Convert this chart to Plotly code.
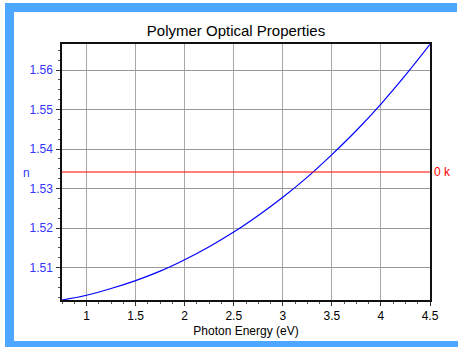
import plotly.graph_objects as go

# Data
photon_energy_eV = [0.75, 1.0, 1.25, 1.5, 1.75, 2.0, 2.25, 2.5, 2.75, 3.0, 3.25, 3.5, 3.75, 4.0, 4.25, 4.5]
n_values = [1.5018, 1.5030, 1.5047, 1.5067, 1.5091, 1.5120, 1.5153, 1.5190, 1.5232, 1.5278, 1.5329, 1.5386, 1.5447, 1.5514, 1.5587, 1.5665]
k_values = [0.0] * len(photon_energy_eV)

title_text = "Polymer Optical Properties"
x_title = "Photon Energy (eV)"
y_label = "n"
k_tick_label = "0 k"

FONT = "Liberation Sans, Arial, sans-serif"
BLUE_TXT = "#3535ff"
FRAME = "#4da6ff"

fig = go.Figure()
fig.add_trace(go.Scatter(x=photon_energy_eV, y=n_values, mode="lines",
                         line=dict(color="#0000ff", width=1.2, shape="spline"),
                         showlegend=False, hoverinfo="skip"))
fig.add_trace(go.Scatter(x=photon_energy_eV, y=k_values, mode="lines", yaxis="y2",
                         line=dict(color="#ff0000", width=1.2),
                         showlegend=False, hoverinfo="skip"))

L, R, T, B = 62, 28, 44, 48
W, H = 458, 348
pw, ph = W - L - R, H - T - B

def px(x):
    return (x - L) / pw

def py(y):
    return (H - B - y) / ph

shapes = [
    dict(type="rect", xref="paper", yref="paper", x0=px(5), x1=px(457), y0=py(12), y1=py(3),
         fillcolor=FRAME, line=dict(width=0), layer="below"),
    dict(type="rect", xref="paper", yref="paper", x0=px(5), x1=px(14), y0=py(347), y1=py(3),
         fillcolor=FRAME, line=dict(width=0), layer="below"),
    dict(type="rect", xref="paper", yref="paper", x0=px(5), x1=px(458), y0=py(347), y1=py(341),
         fillcolor=FRAME, line=dict(width=0), layer="below"),
]

fig.update_layout(
    width=W, height=H,
    margin=dict(l=L, r=R, t=T, b=B, pad=0, autoexpand=False),
    paper_bgcolor="white", plot_bgcolor="white",
    font=dict(family=FONT, size=12, color="black"),
    title=dict(text=title_text, x=px(236), xref="paper", xanchor="center",
               y=1 - 31 / H, yref="container", yanchor="middle",
               font=dict(family=FONT, size=15, color="black")),
    shapes=shapes,
    xaxis=dict(range=[0.75, 4.5], dtick=0.5, tick0=0, automargin=False,
               showgrid=True, gridcolor="#a8a8a8", gridwidth=1,
               showline=True, linecolor="#111", linewidth=1.5, mirror=True,
               ticks="outside", ticklen=4, tickcolor="#333", zeroline=False,
               tickfont=dict(size=12, color="black"),
               minor=dict(dtick=0.125, tick0=0, ticks="outside", ticklen=2, tickcolor="#555", showgrid=False),
               title=dict(text=x_title, standoff=4, font=dict(size=12, color="black"))),
    yaxis=dict(range=[1.5018, 1.5666], dtick=0.01, tick0=1.5, tickformat=".2f", automargin=False,
               showgrid=True, gridcolor="#999999", gridwidth=1,
               showline=True, linecolor="#111", linewidth=1.5, mirror=True,
               ticks="outside", ticklen=4, tickcolor="#333", zeroline=False,
               tickfont=dict(size=12, color=BLUE_TXT), ticklabelstandoff=1,
               minor=dict(dtick=0.0025, tick0=1.5, ticks="outside", ticklen=2, tickcolor="#555", showgrid=False)),
    yaxis2=dict(range=[-1, 1], overlaying="y", side="right", tickvals=[0], ticktext=[k_tick_label],
                showgrid=False, zeroline=False, showline=False, ticks="", automargin=False,
                ticklabelstandoff=3,
                tickfont=dict(size=12, color="#ff0000")),
    annotations=[dict(text=y_label, xref="paper", yref="paper", x=px(26), y=py(173),
                      xanchor="center", yanchor="middle", showarrow=False,
                      font=dict(size=12, color=BLUE_TXT))],
)

fig.write_html("out.html", config={"displayModeBar": False},
               post_script="document.body.style.margin='0';document.body.style.overflow='hidden';")
